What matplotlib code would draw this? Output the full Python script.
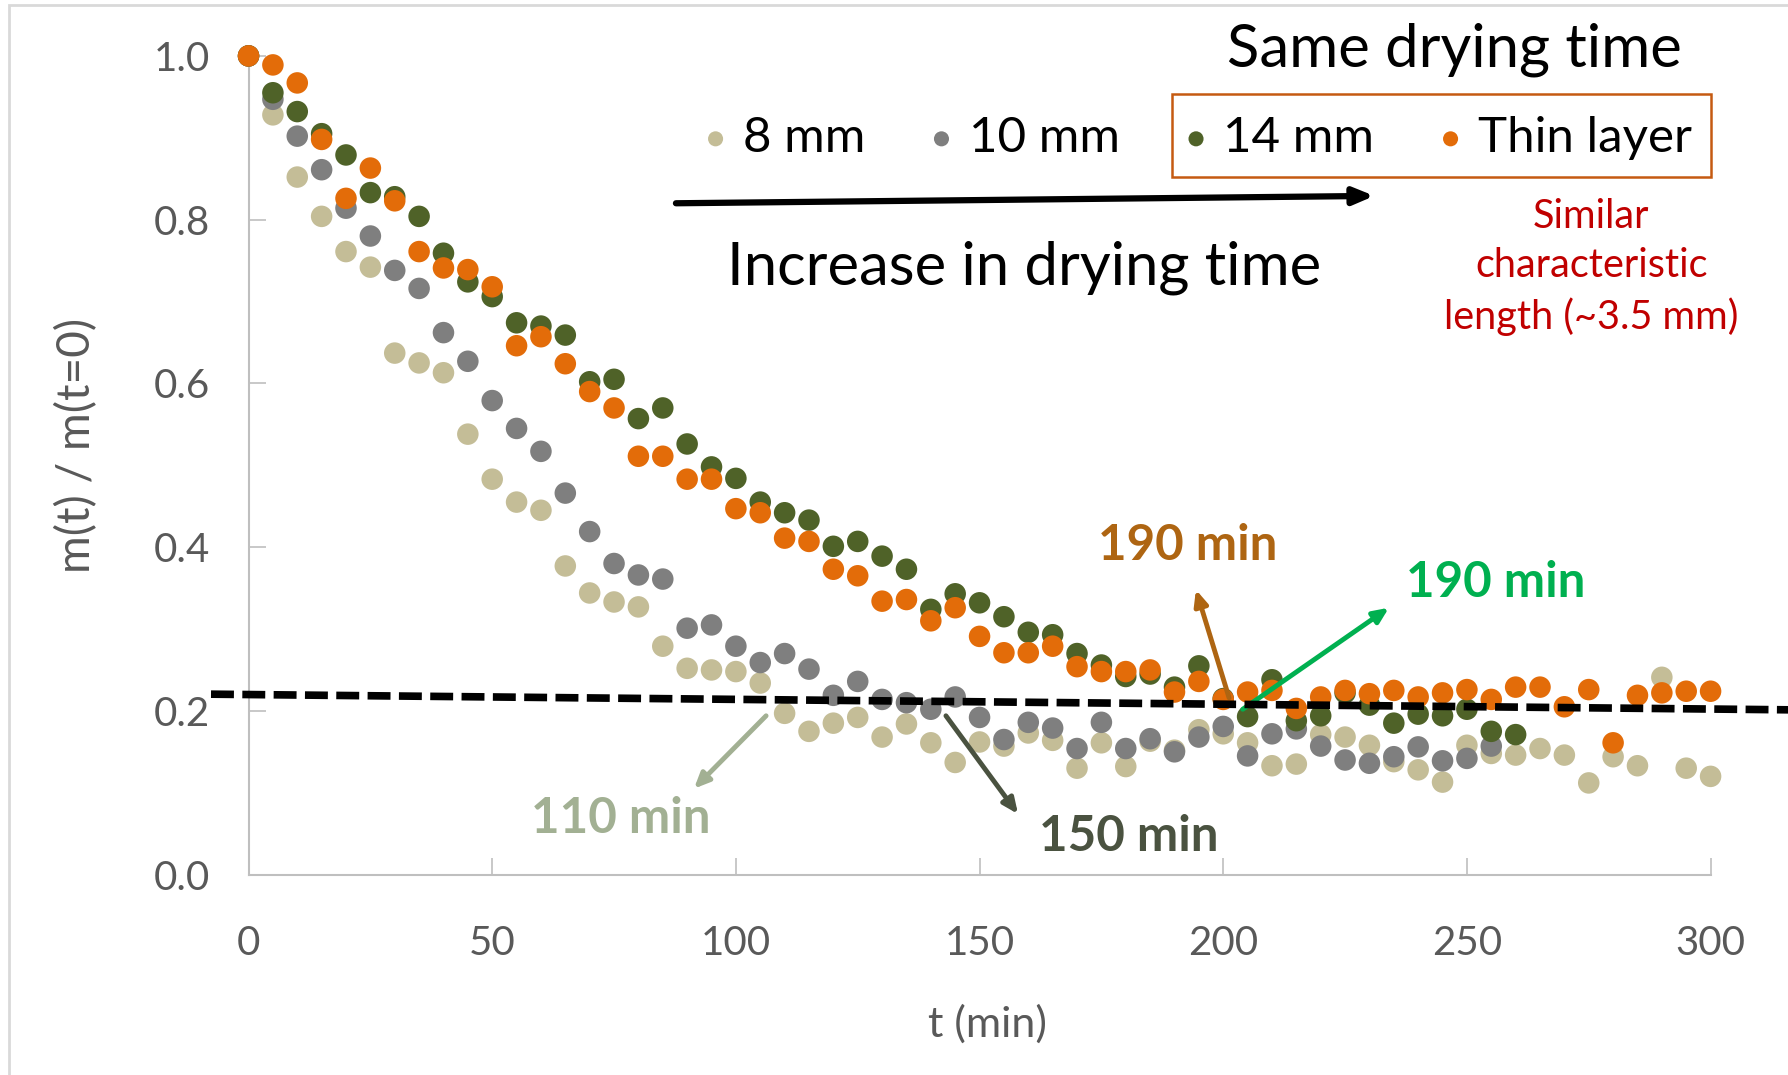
import matplotlib
matplotlib.use('Agg')
import matplotlib.pyplot as plt
from matplotlib.patches import Rectangle
import numpy as np

plt.rcParams['font.family'] = ['Lato', 'DejaVu Sans']

# sampling every 5 min
t = np.arange(0, 305, 5)

m_8mm = [1.0, 0.928, 0.852, 0.804, 0.761, 0.742, 0.637, 0.625, 0.613, 0.538,
         0.483, 0.455, 0.445, 0.377, 0.344, 0.333, 0.327, 0.279, 0.252, 0.250,
         0.248, 0.234, 0.197, 0.175, 0.185, 0.192, 0.168, 0.184, 0.161, 0.137,
         0.162, 0.157, 0.173, 0.164, 0.130, 0.161, 0.132, 0.163, 0.152, 0.177,
         0.172, 0.161, 0.133, 0.135, 0.171, 0.168, 0.158, 0.138, 0.128, 0.113,
         0.158, 0.148, 0.146, 0.154, 0.146, 0.112, 0.144, 0.133, 0.241, 0.130,
         0.120]

m_10mm = [1.0, 0.947, 0.902, 0.861, 0.814, 0.780, 0.738, 0.716, 0.662, 0.627,
          0.579, 0.545, 0.517, 0.466, 0.419, 0.380, 0.366, 0.361, 0.301, 0.305,
          0.279, 0.259, 0.270, 0.251, 0.219, 0.236, 0.214, 0.210, 0.202, 0.217,
          0.192, 0.165, 0.186, 0.179, 0.154, 0.186, 0.154, 0.166, 0.150, 0.168,
          0.181, 0.145, 0.172, 0.178, 0.157, 0.140, 0.136, 0.144, 0.156, 0.139,
          0.142, 0.157]

m_14mm = [1.0, 0.955, 0.932, 0.905, 0.879, 0.833, 0.828, 0.804, 0.759, 0.724,
          0.706, 0.674, 0.670, 0.659, 0.602, 0.605, 0.557, 0.570, 0.526, 0.498,
          0.484, 0.455, 0.442, 0.433, 0.401, 0.407, 0.389, 0.373, 0.324, 0.343,
          0.332, 0.315, 0.296, 0.293, 0.270, 0.256, 0.242, 0.245, 0.229, 0.255,
          0.215, 0.193, 0.238, 0.188, 0.194, 0.222, 0.207, 0.185, 0.196, 0.194,
          0.202, 0.175, 0.171]

m_thin = [1.0, 0.989, 0.967, 0.898, 0.826, 0.863, 0.823, 0.761, 0.741, 0.739,
          0.718, 0.646, 0.657, 0.624, 0.590, 0.570, 0.511, 0.511, 0.483, 0.483,
          0.447, 0.442, 0.411, 0.407, 0.373, 0.365, 0.334, 0.336, 0.310, 0.326,
          0.291, 0.271, 0.271, 0.279, 0.254, 0.248, 0.248, 0.250, 0.223, 0.236,
          0.214, 0.223, 0.225, 0.203, 0.217, 0.225, 0.221, 0.225, 0.217, 0.222,
          0.226, 0.214, 0.229, 0.229, 0.205, 0.226, 0.161, 0.219, 0.222, 0.224,
          0.224]

series = [
    ('8 mm', m_8mm, '#C4BD97'),
    ('10 mm', m_10mm, '#7F7F7F'),
    ('14 mm', m_14mm, '#4F6228'),
    ('Thin layer', m_thin, '#E36C09'),
]

# end points of the common plateau line
plateau_t = [-7.7, 315.9]
plateau_m = [0.2204, 0.2013]

fig = plt.figure(figsize=(17.88, 10.75), dpi=100)
ax = fig.add_axes([0.139, 0.1864, 0.8177, 0.7616])

for name, vals, col in series:
    ax.scatter(t[:len(vals)], vals, s=240, color=col, edgecolors='none',
               label=name, clip_on=False, zorder=3)

ax.plot(plateau_t, plateau_m, color='black', lw=5.5, dashes=(3.0, 1.1),
        clip_on=False, zorder=4)

ax.set_xlim(0, 300)
ax.set_ylim(0, 1.0)
ax.set_xticks(range(0, 301, 50))
ax.set_yticks(np.arange(0, 1.01, 0.2))
ax.yaxis.set_major_formatter(plt.FormatStrFormatter('%.1f'))
for side in ['top', 'right']:
    ax.spines[side].set_visible(False)
for side in ['left', 'bottom']:
    ax.spines[side].set_color('#BFBFBF')
    ax.spines[side].set_linewidth(1.5)
ax.tick_params(direction='in', length=12, width=1.2, color='#BFBFBF',
               labelsize=29, labelcolor='#595959')
ax.tick_params(axis='x', pad=36)
ax.tick_params(axis='y', pad=28)

fig.text(0.552, 0.047, 't (min)', fontsize=31, color='#595959',
         ha='center', va='center')
fig.text(0.043, 0.586, 'm(t) / m(t=0)', fontsize=33, color='#595959',
         ha='center', va='center', rotation=90)

leg = ax.legend(loc='center', bbox_to_anchor=(0.649, 0.9), ncol=4,
                frameon=False, fontsize=35.5, handlelength=0.5,
                handletextpad=0.3, columnspacing=1.3, markerscale=0.7,
                borderpad=0)
ax.add_patch(Rectangle((189.5, 0.852), 110.5, 0.102, fill=False,
                       edgecolor='#C55A11', lw=1.8, clip_on=False))

ax.text(247.4, 1.008, 'Same drying time', fontsize=43, ha='center',
        va='center')
ax.annotate('', xy=(231, 0.829), xytext=(87.7, 0.820),
            arrowprops=dict(arrowstyle='-|>,head_length=1.2,head_width=0.5',
                            lw=4.5, color='black', shrinkA=0, shrinkB=0),
            annotation_clip=False)
ax.text(159.1, 0.741, 'Increase in drying time', fontsize=43, ha='center',
        va='center')
ax.text(275.5, 0.742, 'Similar\ncharacteristic\nlength (~3.5 mm)',
        fontsize=28.5, color='#C00000', ha='center', va='center',
        linespacing=1.42)

# times to reach the plateau
labels = [
    ('190 min', (192.8, 0.4025), (194.4, 0.348), (201.2, 0.216), '#AE6512'),
    ('190 min', (256.0, 0.357), (234.0, 0.326), (204.0, 0.202), '#00B050'),
    ('110 min', (76.4, 0.068), (91.4, 0.105), (106.2, 0.194), '#A2B093'),
    ('150 min', (180.7, 0.047), (157.9, 0.074), (143.1, 0.194), '#4A5240'),
]
for txt, pos, head, tail, col in labels:
    ax.text(pos[0], pos[1], txt, fontsize=35.5, fontweight='bold', color=col,
            ha='center', va='center')
    ax.annotate('', xy=head, xytext=tail,
                arrowprops=dict(arrowstyle='-|>,head_length=0.9,head_width=0.4',
                                lw=3.5, color=col, shrinkA=0, shrinkB=0),
                annotation_clip=False)

# light chart border
fig.patches.append(Rectangle((9 / 1788, -0.1), 1.2, 1.1 - 5 / 1075,
                             transform=fig.transFigure, fill=False,
                             edgecolor='#D9D9D9', lw=2))

fig.savefig('out.png', dpi=100)
